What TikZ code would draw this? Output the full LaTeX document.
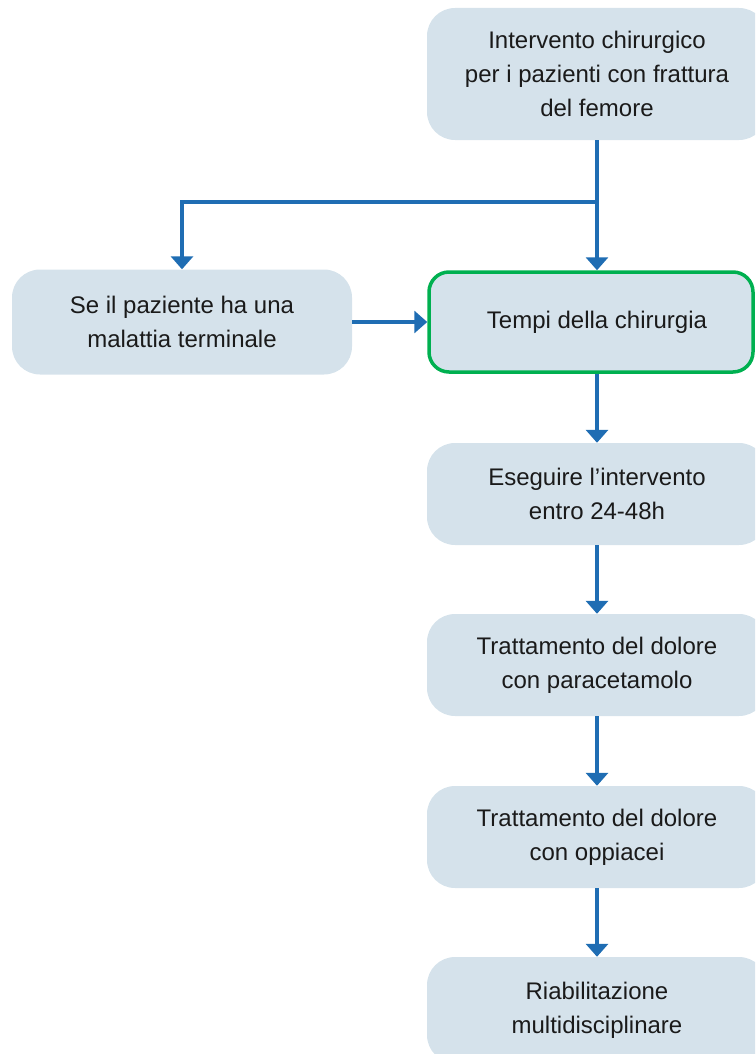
\documentclass[tikz,border=0pt]{standalone}
\usepackage{fontspec}
\setmainfont{Liberation Sans}
\usetikzlibrary{arrows.meta}
\definecolor{boxfill}{HTML}{D5E2EB}
\definecolor{arrowblue}{HTML}{1F6DB3}
\definecolor{hlgreen}{HTML}{00B050}
\definecolor{txt}{HTML}{1A1A1A}
\tikzset{
  flowbox/.style={rectangle, rounded corners=28pt, fill=boxfill, draw=none,
    minimum width=340pt, minimum height=102pt, align=center, text=txt,
    font=\fontsize{24}{34}\selectfont, inner sep=2pt},
  conn/.style={draw=arrowblue, line width=4pt, -{Triangle[width=22pt,length=13pt]}},
}
\begin{document}
\begin{tikzpicture}[x=1pt,y=-1pt]
\useasboundingbox (0,0) rectangle (755,1054);
\clip (0,0) rectangle (755,1054);
\node[flowbox, minimum height=132pt] (top) at (597,74) {Intervento chirurgico\\per i pazienti con frattura\\del femore};
\node[flowbox, minimum height=105pt] (se) at (182,322) {Se il paziente ha una\\malattia terminale};
\node[flowbox, minimum width=324pt, minimum height=100pt, draw=hlgreen, line width=3.5pt, rounded corners=20pt] (tempi) at (591,322) {\hspace*{12pt}Tempi della chirurgia};
\node[flowbox] (eseg) at (597,494) {Eseguire l’intervento\\entro 24-48h};
\node[flowbox] (para) at (597,665) {Trattamento del dolore\\con paracetamolo};
\node[flowbox] (oppi) at (597,837) {Trattamento del dolore\\con oppiacei};
\node[flowbox, minimum height=106pt] (riab) at (597,1010) {Riabilitazione\\multidisciplinare};
\coordinate (split) at (597,202);
\draw[conn] (top.south) -- (top.south |- tempi.north);
\draw[conn] (split) -| (se.north);
\draw[conn] (se.east) -- (tempi.west);
\draw[conn] (tempi.south -| eseg.north) -- (eseg.north);
\draw[conn] (eseg.south) -- (para.north);
\draw[conn] (para.south) -- (oppi.north);
\draw[conn] (oppi.south) -- (riab.north);
\end{tikzpicture}
\end{document}
